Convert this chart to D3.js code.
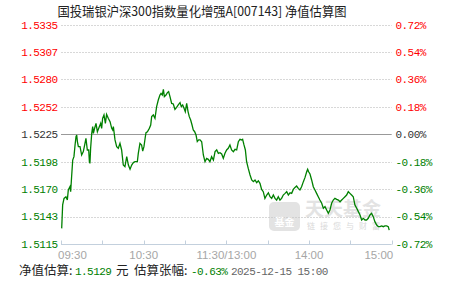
<!DOCTYPE html>
<html>
<head>
<meta charset="utf-8">
<script src="https://cdn.jsdelivr.net/npm/d3@7"></script>
<style>
  html, body { margin: 0; padding: 0; background: #fff; }
  svg { display: block; }
  .cjk { font-family: "Noto Sans CJK SC", sans-serif; }
  .mono { font-family: "Liberation Mono", "DejaVu Sans Mono", monospace; letter-spacing: -0.55px; }
</style>
</head>
<body>
<div id="chart"></div>
<script>
// 数据：分钟（自 09:30 起的交易分钟）与估算涨幅（%）
const minutes = [
  0.5, 1.2, 2.2, 3.6, 4.6, 5.3, 6.5, 7.0, 7.7, 8.5, 9.4, 10.2, 10.9, 11.4, 11.9, 12.6, 13.8, 15.0, 16.2, 17.4,
  18.1, 19.1, 20.1, 20.6, 21.0, 21.5, 22.3, 23.0, 23.5, 24.2, 25.4, 26.4, 27.8, 28.8, 29.5, 30.2, 31.2, 32.2, 33.1, 34.3,
  35.6, 36.8, 37.5, 38.0, 39.2, 40.4, 41.6, 42.8, 44.0, 45.2, 46.4, 47.7, 48.9, 50.1, 51.3, 52.5, 53.7, 55.4, 56.1, 57.3,
  58.5, 59.3, 60.2, 61.2, 61.7, 62.7, 64.1, 65.1, 65.8, 67.0, 68.2, 69.4, 70.6, 71.8, 72.6, 73.5, 74.3, 75.0, 76.2, 77.2,
  78.1, 79.1, 80.3, 81.5, 82.7, 83.9, 85.1, 86.4, 87.3, 88.3, 89.3, 90.2, 91.2, 92.2, 93.1, 94.1, 95.1, 96.0, 97.0, 98.0,
  98.9, 99.9, 100.9, 102.1, 103.3, 104.5, 105.7, 106.9, 108.1, 109.3, 110.6, 111.8, 113.0, 114.2, 115.4, 116.6, 117.8, 119.0, 120.2, 121.4,
  122.6, 123.8, 125.1, 126.3, 127.5, 128.7, 129.9, 131.1, 131.8, 132.8, 133.8, 134.7, 135.9, 137.2, 138.4, 139.6, 140.8, 142.0, 143.2, 144.4,
  145.6, 146.8, 148.0, 149.3, 150.5, 151.7, 152.9, 154.1, 155.3, 156.5, 157.7, 158.9, 160.1, 161.3, 162.6, 163.8, 165.0, 166.2, 167.4, 168.6,
  169.8, 171.0, 172.2, 173.4, 174.6, 175.9, 177.1, 178.3, 179.0, 179.7, 180.7, 181.9, 183.1, 184.3, 185.5, 186.7, 187.9, 189.2, 190.4, 191.6,
  192.8, 194.0, 195.2, 196.4, 197.6, 198.8, 200.1, 201.3, 202.5, 203.7, 204.9, 206.1, 207.3, 208.5, 209.7, 210.9, 212.1, 213.3, 214.6, 215.8,
  217.0, 218.2, 219.4, 220.6, 221.8, 223.0, 224.2, 225.4, 226.6, 227.8, 229.1, 230.3, 231.5, 232.7, 233.9, 235.1, 236.3, 237.5, 238.2
];
const changes = [
  -0.618, -0.464, -0.421, -0.410, -0.432, -0.366, -0.344, -0.377, -0.279, -0.169, -0.147, -0.070, -0.016, -0.005, -0.048, -0.081, -0.081, -0.136, -0.114, -0.059,
  -0.026, -0.103, -0.103, -0.180, -0.191, -0.092, 0.006, 0.050, 0.006, 0.033, 0.072, 0.017, 0.050, 0.072, 0.039, 0.105, 0.127, 0.072, 0.131, 0.105,
  0.083, 0.039, 0.028, 0.050, -0.037, -0.081, -0.092, -0.059, -0.103, -0.202, -0.213, -0.147, -0.202, -0.230, -0.202, -0.186, -0.180, -0.180, -0.125, -0.059,
  -0.070, -0.110, -0.081, -0.016, 0.011, 0.017, 0.039, 0.061, 0.116, 0.127, 0.105, 0.182, 0.225, 0.258, 0.269, 0.258, 0.295, 0.247, 0.258, 0.274,
  0.280, 0.247, 0.203, 0.199, 0.164, 0.177, 0.193, 0.208, 0.182, 0.193, 0.171, 0.149, 0.203, 0.149, 0.116, 0.094, 0.061, 0.028, 0.017, -0.005,
  -0.048, -0.037, -0.037, -0.049, -0.136, -0.180, -0.158, -0.164, -0.180, -0.147, -0.169, -0.114, -0.103, -0.125, -0.121, -0.129, -0.158, -0.125, -0.103, -0.092,
  -0.070, -0.103, -0.114, -0.099, -0.103, -0.049, -0.033, -0.037, -0.033, -0.070, -0.103, -0.180, -0.224, -0.267, -0.300, -0.311, -0.300, -0.318, -0.305, -0.322,
  -0.362, -0.377, -0.421, -0.399, -0.384, -0.410, -0.421, -0.399, -0.421, -0.432, -0.410, -0.432, -0.421, -0.399, -0.388, -0.377, -0.399, -0.384, -0.388, -0.362,
  -0.349, -0.340, -0.355, -0.366, -0.344, -0.311, -0.283, -0.246, -0.230, -0.246, -0.261, -0.300, -0.344, -0.366, -0.388, -0.410, -0.432, -0.453, -0.486, -0.475,
  -0.497, -0.519, -0.497, -0.453, -0.432, -0.421, -0.427, -0.432, -0.443, -0.432, -0.421, -0.410, -0.399, -0.377, -0.388, -0.399, -0.410, -0.464, -0.486, -0.508,
  -0.530, -0.563, -0.552, -0.563, -0.563, -0.552, -0.530, -0.519, -0.541, -0.574, -0.596, -0.607, -0.607, -0.602, -0.607, -0.602, -0.602, -0.607, -0.630
];

// 刻度
const pctTicks = [0.72, 0.54, 0.36, 0.18, 0, -0.18, -0.36, -0.54, -0.72];
const pctLabels = ["0.72%", "0.54%", "0.36%", "0.18%", "0.00%", "-0.18%", "-0.36%", "-0.54%", "-0.72%"];
const navLabels = ["1.5335", "1.5307", "1.5280", "1.5252", "1.5225", "1.5198", "1.5170", "1.5143", "1.5115"];
const timeTicks = [0, 30, 60, 90, 120, 150, 180, 210, 240];
const timeLabelTicks = [0, 60, 120, 180, 240];
const timeLabels = ["09:30", "10:30", "11:30/13:00", "14:00", "15:00"];

const title = "国投瑞银沪深300指数量化增强A[007143] 净值估算图";
const estNav = "1.5129";
const estChange = "-0.63%";
const estTime = "2025-12-15 15:00";

const width = 451, height = 281;
const RED = "#ff0000", GREEN = "#008000", DARK = "#333";
const colorOf = v => v > 0 ? RED : (v < 0 ? GREEN : DARK);

const svg = d3.select("#chart").append("svg")
    .attr("width", width)
    .attr("height", height);

const x = d3.scaleLinear().domain([0, 240]).range([61, 391.7]);
const y = d3.scaleLinear().domain([-0.72, 0.72]).range([243.9, 24.7]);

// 标题
svg.append("text")
    .attr("class", "cjk")
    .attr("x", 57.5)
    .attr("y", 16)
    .attr("font-size", 13)
    .attr("fill", "#222")
    .attr("textLength", 289)
    .attr("lengthAdjust", "spacingAndGlyphs")
    .text(title);

// 网格线
svg.append("g")
    .selectAll("line")
    .data(pctTicks.filter(d => d !== 0 && d !== -0.72))
    .join("line")
    .attr("x1", x(0)).attr("x2", x(240))
    .attr("y1", d => Math.round(y(d)) + 0.5)
    .attr("y2", d => Math.round(y(d)) + 0.5)
    .attr("stroke", "#d8d8d8")
    .attr("stroke-dasharray", "2,1");

// 水印
const wm = svg.append("g").attr("opacity", 0.5);
wm.append("rect")
    .attr("x", 269).attr("y", 202).attr("width", 31).attr("height", 29).attr("rx", 5)
    .attr("fill", "#c8c8c8");
wm.append("text")
    .attr("class", "cjk")
    .attr("x", 284.5).attr("y", 226).attr("text-anchor", "middle")
    .attr("font-size", 10).attr("font-weight", "bold").attr("fill", "#fff")
    .text("基金");
wm.append("text")
    .attr("class", "cjk")
    .attr("x", 305).attr("y", 216)
    .attr("font-size", 19).attr("font-weight", "bold").attr("fill", "#c8c8c8")
    .attr("textLength", 76).attr("lengthAdjust", "spacingAndGlyphs")
    .text("天天基金");
wm.append("text")
    .attr("class", "cjk")
    .attr("x", 307).attr("y", 229)
    .attr("font-size", 8).attr("fill", "#b5b5b5")
    .attr("textLength", 73).attr("lengthAdjust", "spacing")
    .text("链接您与财富");

// 零线
svg.append("line")
    .attr("x1", x(0)).attr("x2", x(240))
    .attr("y1", Math.round(y(0)) + 0.5).attr("y2", Math.round(y(0)) + 0.5)
    .attr("stroke", "#999")
    .attr("stroke-width", 1);

// 底部坐标轴
const axisY = Math.round(y(-0.72)) + 0.5;
svg.append("line")
    .attr("x1", x(0)).attr("x2", x(240))
    .attr("y1", axisY).attr("y2", axisY)
    .attr("stroke", "#c3d0dd");
svg.append("g")
    .selectAll("line")
    .data(timeTicks)
    .join("line")
    .attr("x1", d => Math.round(x(d)) + 0.5)
    .attr("x2", d => Math.round(x(d)) + 0.5)
    .attr("y1", axisY).attr("y2", axisY - 4)
    .attr("stroke", "#c3d0dd");

svg.append("g")
    .selectAll("text")
    .data(timeLabelTicks)
    .join("text")
    .attr("x", (d, i) => i === 0 ? x(d) - 3 : (i === timeLabelTicks.length - 1 ? x(d) + 1.5 : x(d)))
    .attr("y", 259)
    .attr("text-anchor", (d, i) => i === 0 ? "start" : (i === timeLabelTicks.length - 1 ? "end" : "middle"))
    .attr("font-family", "Liberation Sans, Arial, sans-serif")
    .attr("font-size", 11.5)
    .attr("fill", "#a6a6a6")
    .text((d, i) => timeLabels[i]);

// 左轴（净值）
svg.append("g")
    .selectAll("text")
    .data(pctTicks)
    .join("text")
    .attr("class", "mono")
    .attr("x", 57.5)
    .attr("y", d => y(d))
    .attr("dy", "0.36em")
    .attr("text-anchor", "end")
    .attr("font-size", 11)
    .attr("fill", d => colorOf(d))
    .text((d, i) => navLabels[i]);

// 右轴（涨幅）
svg.append("g")
    .selectAll("text")
    .data(pctTicks)
    .join("text")
    .attr("class", "mono")
    .attr("x", 395.5)
    .attr("y", d => y(d))
    .attr("dy", "0.36em")
    .attr("text-anchor", "start")
    .attr("font-size", 11)
    .attr("fill", d => colorOf(d))
    .text((d, i) => pctLabels[i]);

// 估值线
const series = minutes.map((m, i) => ({m, v: changes[i]}));
const line = d3.line()
    .x(d => x(d.m))
    .y(d => y(d.v));
svg.append("path")
    .datum(series)
    .attr("fill", "none")
    .attr("stroke", GREEN)
    .attr("stroke-width", 1.3)
    .attr("stroke-linejoin", "miter")
    .attr("d", line);

// 底部信息
const info = svg.append("text")
    .attr("y", 275)
    .attr("font-size", 12);
const segments = [
    {text: "净值估算:", x: 19, cls: "cjk", color: "#222"},
    {text: estNav, x: 75, cls: "mono", color: GREEN},
    {text: "元", x: 116, cls: "cjk", color: "#222"},
    {text: "估算张幅:", x: 134, cls: "cjk", color: "#222"},
    {text: estChange, x: 191, cls: "mono", color: GREEN},
    {text: estTime, x: 231, cls: "mono", color: "#666"}
];
info.selectAll("tspan")
    .data(segments)
    .join("tspan")
    .attr("class", d => d.cls)
    .attr("x", d => d.x)
    .attr("font-size", d => d.cls === "mono" ? 11 : 12.5)
    .attr("fill", d => d.color)
    .text(d => d.text);
</script>
</body>
</html>
